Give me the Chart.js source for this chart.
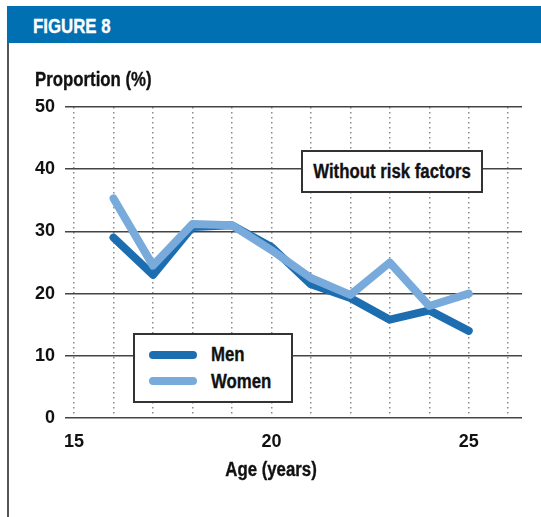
<!DOCTYPE html>
<html>
<head>
<meta charset="utf-8">
<script src="https://cdn.jsdelivr.net/npm/chart.js@4"></script>
<style>
  html, body { margin: 0; padding: 0; background: #fff; }
  body { width: 541px; height: 517px; position: relative; overflow: hidden; }
  .ct { position: absolute; font-family: "Liberation Sans", Arial, sans-serif; font-weight: bold; font-size: 20px; line-height: 20px; white-space: nowrap; color: #111; transform: scaleX(0.84); transform-origin: left top; -webkit-text-stroke: 0.35px #111; }
  #header { position: absolute; left: 7px; top: 6px; width: 534px; height: 37px; background: #0070b3; }
  #header .ct { left: 26px; top: 10px; color: #fff; -webkit-text-stroke: 0.35px #fff; }
  #leftrule { position: absolute; left: 7px; top: 43px; width: 1.5px; height: 474px; background: #555; }
  #ytitle { left: 35px; top: 69px; }
  #xtitle { left: 121px; top: 459px; width: 300px; text-align: center; transform-origin: center top; }
  #chartwrap { position: absolute; left: 0; top: 0; width: 541px; height: 517px; }
  .box { position: absolute; background: #fff; border: 2px solid #333; box-sizing: border-box; }
  #note { left: 301px; top: 150px; width: 182px; height: 43px; }
  #note .ct { left: -11px; top: 9px; width: 200px; text-align: center; transform-origin: center top; }
  #legend { left: 133px; top: 333px; width: 160px; height: 70px; }
  .sw { position: absolute; left: 14px; width: 48px; height: 8px; border-radius: 4px; }
  #legend .ct { left: 76px; }
</style>
</head>
<body>
<div id="header"><span class="ct">FIGURE 8</span></div>
<div id="leftrule"></div>
<div id="chartwrap"><canvas id="c" width="541" height="517"></canvas></div>
<div id="ytitle" class="ct">Proportion (%)</div>
<div id="xtitle" class="ct">Age (years)</div>
<div id="note" class="box"><span class="ct">Without risk factors</span></div>
<div id="legend" class="box"></div>
<script>
// ---- data ----
const ages = [16, 17, 18, 19, 20, 21, 22, 23, 24, 25];
const men = [29, 23, 30.7, 31, 27.5, 21.5, 19.3, 15.8, 17.3, 14];
const women = [35.3, 24.5, 31.2, 31, 27, 22.5, 19.8, 25, 18, 20];
const seriesNames = ["Men", "Women"];
const seriesColors = ["#1d6db1", "#78aadb"];
const xTickValues = [15, 16, 17, 18, 19, 20, 21, 22, 23, 24, 25, 26];
const xLabelValues = [15, 20, 25];
const yTickValues = [0, 10, 20, 30, 40, 50];

const tickFont = '"Liberation Sans", Arial, sans-serif';

function pts(vals) { return ages.map((a, i) => ({ x: a, y: vals[i] })); }

const datasets = [men, women].map((vals, i) => ({
  label: seriesNames[i],
  data: pts(vals),
  borderColor: seriesColors[i],
  backgroundColor: seriesColors[i],
  borderWidth: 8,
  pointRadius: 0,
  pointHoverRadius: 0,
  borderCapStyle: 'round',
  borderJoinStyle: 'round',
  tension: 0,
  order: i === 0 ? 1 : 0
}));

// legend built from the same series arrays
const lg = document.getElementById('legend');
seriesNames.forEach((n, i) => {
  const sw = document.createElement('div');
  sw.className = 'sw';
  sw.style.top = (16 + i * 26) + 'px';
  sw.style.background = seriesColors[i];
  lg.appendChild(sw);
  const t = document.createElement('span');
  t.className = 'ct';
  t.style.top = (9 + i * 27) + 'px';
  t.textContent = n;
  lg.appendChild(t);
});

new Chart(document.getElementById('c'), {
  type: 'line',
  data: { datasets },
  options: {
    responsive: false,
    animation: false,
    events: [],
    layout: { padding: { left: 0, top: 107, right: 19, bottom: 0 } },
    plugins: { legend: { display: false }, tooltip: { enabled: false } },
    scales: {
      x: {
        type: 'linear',
        min: 14.77,
        max: 26.35,
        afterBuildTicks: s => { s.ticks = xTickValues.map(v => ({ value: v })); },
        afterFit: s => { s.height = 99; },
        ticks: {
          autoSkip: false,
          maxRotation: 0,
          padding: 13,
          color: '#111',
          font: { family: tickFont, size: 18, weight: 'bold' },
          callback: v => xLabelValues.includes(v) ? String(v) : ''
        },
        grid: { drawTicks: false, color: '#8a8a8a', lineWidth: 1.5 },
        border: { display: false, dash: [1.5, 3.5] }
      },
      y: {
        min: 0,
        max: 50,
        afterBuildTicks: s => { s.ticks = yTickValues.map(v => ({ value: v })); },
        afterFit: s => { s.width = 65; },
        ticks: {
          padding: 10,
          color: '#111',
          font: { family: tickFont, size: 18, weight: 'bold' }
        },
        grid: { drawTicks: false, color: '#444', lineWidth: 1.6 },
        border: { display: false }
      }
    }
  }
});
</script>
</body>
</html>
